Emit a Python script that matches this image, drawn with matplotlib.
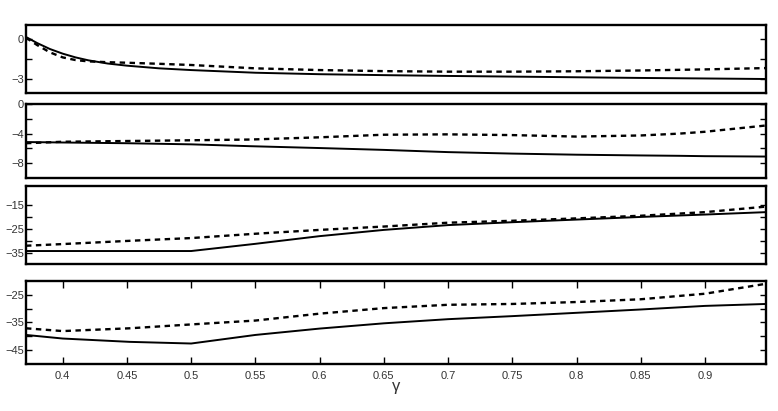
import matplotlib
matplotlib.use("Agg")
import matplotlib.pyplot as plt

plt.rcParams["font.family"] = ["Liberation Sans", "DejaVu Sans"]

# gamma sample points
x1 = [0.3714, 0.38, 0.39, 0.40, 0.41, 0.42, 0.435, 0.45, 0.475, 0.50, 0.55, 0.60, 0.65, 0.70, 0.75, 0.80, 0.85, 0.90, 0.9475]
p1_solid = [0.15, -0.3, -0.75, -1.1, -1.38, -1.6, -1.84, -2.0, -2.2, -2.33, -2.53, -2.64, -2.71, -2.77, -2.82, -2.87, -2.92, -2.96, -3.0]
p1_dash = [0.1, -0.45, -1.0, -1.38, -1.58, -1.68, -1.74, -1.78, -1.86, -1.95, -2.2, -2.33, -2.41, -2.45, -2.45, -2.42, -2.36, -2.28, -2.18]

x2 = [0.3714, 0.40, 0.45, 0.50, 0.546, 0.60, 0.65, 0.70, 0.75, 0.80, 0.85, 0.88, 0.90, 0.9475]
p2_solid = [-5.14, -5.2, -5.3, -5.45, -5.7, -5.95, -6.2, -6.5, -6.7, -6.85, -6.95, -7.0, -7.05, -7.1]
p2_dash = [-5.3, -5.1, -5.0, -4.9, -4.8, -4.5, -4.15, -4.1, -4.2, -4.4, -4.25, -4.0, -3.75, -2.9]

x3 = [0.3714, 0.40, 0.45, 0.50, 0.55, 0.60, 0.65, 0.70, 0.75, 0.80, 0.85, 0.90, 0.9475]
p3_solid = [-34.2, -34.2, -34.2, -34.2, -31.2, -28.0, -25.4, -23.4, -22.2, -21.1, -20.0, -19.0, -18.0]
p3_dash = [-32.0, -31.3, -30.0, -28.8, -27.0, -25.4, -24.0, -22.4, -21.6, -20.6, -19.5, -18.0, -15.7]

x4 = [0.3714, 0.40, 0.452, 0.50, 0.55, 0.60, 0.65, 0.70, 0.75, 0.80, 0.85, 0.90, 0.9475]
p4_solid = [-39.5, -40.8, -42.0, -42.6, -39.5, -37.2, -35.3, -33.8, -32.7, -31.5, -30.3, -29.0, -28.3]
p4_dash = [-37.1, -38.1, -37.1, -35.7, -34.3, -31.8, -29.8, -28.6, -28.3, -27.6, -26.6, -24.6, -21.0]

xticks = [0.4, 0.45, 0.5, 0.55, 0.6, 0.65, 0.7, 0.75, 0.8, 0.85, 0.9]
xticklabels = ["0.4", "0.45", "0.5", "0.55", "0.6", "0.65", "0.7", "0.75", "0.8", "0.85", "0.9"]

panels = [
    dict(x=x1, s=p1_solid, d=p1_dash, ylim=(-4.05, 1.05), ticks=[-3, -1.5, 0], labels=["\u22123", "", "0"]),
    dict(x=x2, s=p2_solid, d=p2_dash, ylim=(-10, 0), ticks=[-8, -6, -4, -2, 0], labels=["\u22128", "", "\u22124", "", "0"]),
    dict(x=x3, s=p3_solid, d=p3_dash, ylim=(-39.6, -7.1), ticks=[-35, -30, -25, -20, -15], labels=["\u221235", "", "\u221225", "", "\u221215"]),
    dict(x=x4, s=p4_solid, d=p4_dash, ylim=(-50, -20), ticks=[-45, -40, -35, -30, -25], labels=["\u221245", "", "\u221235", "", "\u221225"]),
]

rects = [
    [0.0334, 0.7737, 0.9512, 0.1655],
    [0.0334, 0.5669, 0.9512, 0.1800],
    [0.0334, 0.3577, 0.9512, 0.1898],
    [0.0334, 0.1144, 0.9512, 0.2019],
]

fig = plt.figure(figsize=(7.78, 4.11), dpi=100)
tc = "#333333"
for i, (p, r) in enumerate(zip(panels, rects)):
    ax = fig.add_axes(r)
    ax.plot(p["x"], p["s"], color="black", lw=1.4, solid_capstyle="butt", solid_joinstyle="round")
    ax.plot(p["x"], p["d"], color="black", lw=1.7, linestyle=(0, (2.3, 1.9)))
    ax.set_xlim(0.3714, 0.9475)
    ax.set_ylim(*p["ylim"])
    ax.set_yticks(p["ticks"])
    ax.set_yticklabels(p["labels"])
    for sp in ax.spines.values():
        sp.set_linewidth(1.7)
    ax.tick_params(axis="y", direction="in", length=4, width=1.0, left=True, right=True,
                   labelsize=8, labelcolor=tc, pad=1.5)
    if i < 3:
        ax.set_xticks([])
    else:
        ax.set_xticks(xticks)
        ax.set_xticklabels(xticklabels)
        ax.tick_params(axis="x", direction="in", length=5, width=1.0, top=True, bottom=True,
                       labelsize=8, labelcolor=tc, pad=5)
        ax.set_xlabel("\u03b3", fontsize=12, color=tc, labelpad=-1.5)

fig.savefig("out.png", dpi=100)
